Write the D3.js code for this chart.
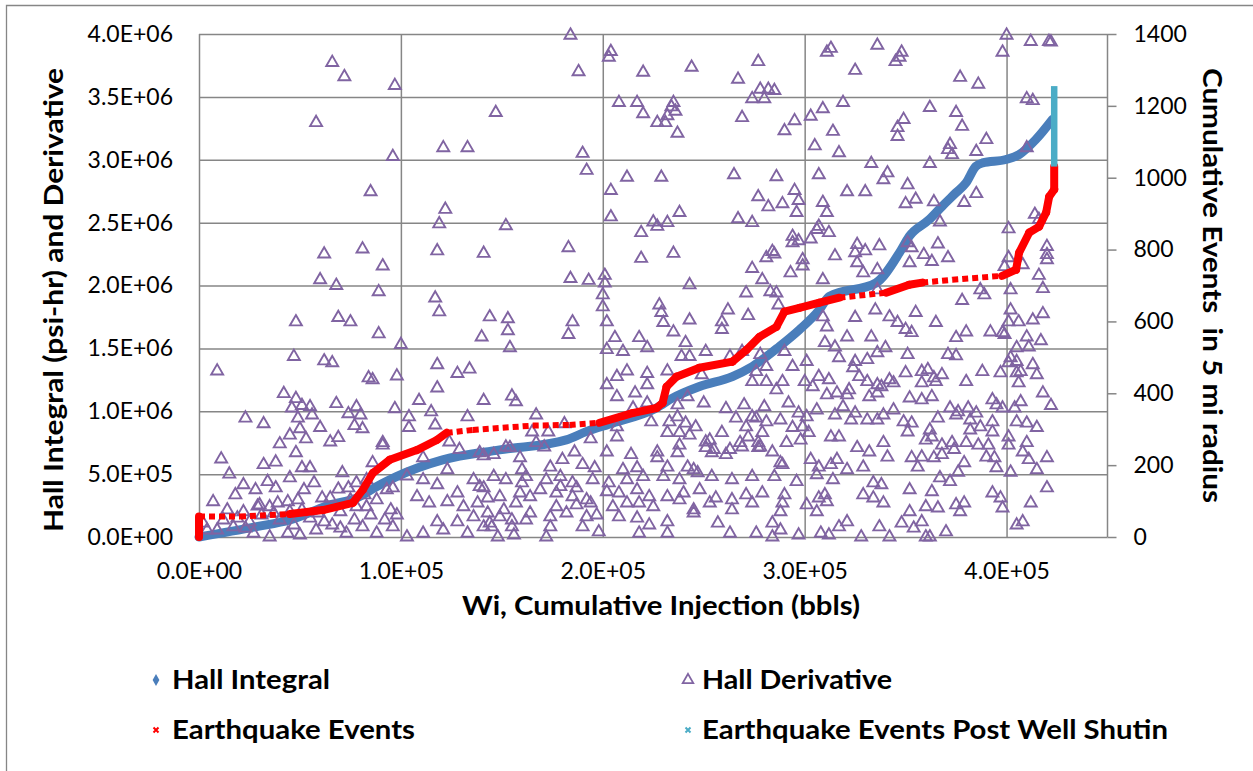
<!DOCTYPE html>
<html>
<head>
<meta charset="utf-8">
<script src="https://cdn.jsdelivr.net/npm/d3@7"></script>
<style>
  body { margin: 0; background: #fff; }
  svg { display: block; font-family: Lato, "Open Sans", sans-serif; }
</style>
</head>
<body>
<svg id="chart"></svg>
<script>
// ---- data (x in thousand bbls, hall values in thousand psi-hr) ----
const xTicks = [0, 100, 200, 300, 400];
const leftTicks = [0, 500, 1000, 1500, 2000, 2500, 3000, 3500, 4000];
const rightTicks = [0, 200, 400, 600, 800, 1000, 1200, 1400];
const seriesNames = ["Hall Integral", "Hall Derivative", "Earthquake Events", "Earthquake Events Post Well Shutin"];

const hallIntegral = [
  [0,0],[28.5,82],[45,135],[64.8,255],[78,310],[87.9,400],[97.8,480],[120.7,613],[148.9,693],
  [181.9,772],[191.8,838],[204.8,905],[226.5,1025],[234.5,1104],[247.9,1197],[264.2,1276],
  [274.1,1356],[287.5,1515],[297.4,1648],[307.3,1807],[312.2,1913],[335.3,2020],[346.9,2259],
  [351.8,2391],[361.7,2524],[368.1,2630],[374.9,2737],[379.9,2816],[384.8,2948],[388.1,2975],
  [399.7,3002],[406.2,3041],[414.5,3161],[422.7,3320]
];

const quakeEvents = [
  [0,0],[0,57],[20.3,57],[45,64],[61.4,75],[76.2,95],[81.1,131],[86.1,178],[94.5,215],[107.9,242],
  [117.8,270],[122.7,290],[135.6,298],[165.3,310],[183.6,312],[198.4,318],[214.7,345],[226.6,359],
  [229.6,373],[231.6,418],[236.5,446],[247.9,471],[264.2,488],[271.2,521],[277.6,557],[286,585],
  [290,627],[297.4,638],[307.3,652],[317.2,666],[340.4,680],[351.8,702],[358.2,708],[373.1,716],
  [397.8,727],[404.7,744],[406.2,791],[411.2,847],[416.1,864],[419.6,903],[421.1,947],[423.6,967],
  [423.6,1031]
];

const quakePostShutin = [[423.6,1031],[423.6,1255]];

const hallDerivative = [
  [66,3773],[72,3660],[97,3590],[58,3295],[96,3025],[85,2745],[62,2250],[81,2290],[91,2155],[60,2045],[68,2000],[89,1950],
  [48,1710],[69,1745],[75,1710],[89,1615],[100,1530],[9,1320],[47,1435],[62,1400],[66,1385],[84,1265],[86,1250],[98,1280],
  [42,1140],[48,1100],[46,1025],[51,1045],[55,1035],[56,970],[68,1060],[78,1035],[74,980],[80,970],[97,1020],[23,945],
  [32,900],[49,945],[50,860],[60,870],[77,885],[81,860],[45,810],[53,780],[65,755],[69,790],[40,740],[91,730],[91,750],
  [11,620],[32,575],[38,595],[48,670],[51,550],[55,550],[15,500],[22,415],[34,440],[45,470],[57,430],[71,510],[78,430],
  [88,295],[7,280],[30,255],[39,270],[44,280],[49,295],[61,310],[65,310],[74,390],[69,380],[14,215],[22,200],[29,245],
  [37,190],[51,215],[59,190],[83,240],
  [38,390],[83,455],[86,590],[35,240],[70,200],[78,240],[93,375],[96,390],[95,215],[2,110],[9,55],[17,80],[27,30],[35,0],
  [44,30],[50,15],[58,55],[66,95],[73,30],[81,80],[88,30],[96,80],[103,0],[111,30],[4,55],[12,135],[19,150],[25,120],
  [31,175],[40,135],[47,95],[55,150],[62,120],[70,70],[77,135],[85,175],[92,135],[98,175],[23,70],[45,200],[75,295],
  [82,335],[52,375],[18,335],[28,375],
  [104,955],[117,890],[133,955],[104,870],[129,695],[141,645],[103,485],[111,455],[123,535],[136,455],[139,400],[118,415],
  [108,320],[114,270],[123,280],[128,350],[131,240],[138,270],[143,310],[118,120],[128,120],[136,160],[121,55],[133,30],[141,80],
  [146,480],[152,455],[162,480],[172,455],[195,455],[149,320],[159,350],[169,375],[177,350],[185,320],[192,295],[143,190],
  [149,160],[155,135],[164,190],[174,160],[182,190],[192,160],[145,80],[156,15],[172,0],[190,80],[198,40],
  [119,1790],[144,1750],[153,1735],[153,1640],[140,1590],[154,1505],[185,1710],[183,1610],[118,1370],[128,1300],[134,1335],
  [118,1185],[109,1085],[141,1085],[155,1120],[157,1075],[115,995],[167,970],[181,900],[165,835],[173,835],[124,755],
  [111,630],[139,670],[154,710],[167,750],[171,715],[186,675],[194,780],
  [184,3990],[204,3860],[203,3815],[188,3700],[220,3695],[244,3735],[277,3780],[267,3640],[278,3560],[282,3560],[285,3550],
  [274,3485],[280,3485],[208,3455],[217,3455],[235,3455],[234,3420],[236,3385],[220,3365],[232,3350],[227,3295],[231,3295],
  [237,3210],[269,3335],[295,3310],[290,3230],[303,3345],[147,3375],[121,3095],[133,3095],[190,3050],[192,2915],[305,3110],
  [212,2860],[229,2860],[265,2880],[286,2865],[204,2755],[277,2705],[282,2625],[289,2650],[295,2755],[297,2675],[296,2580],
  [122,2605],[119,2490],[152,2475],[204,2545],[225,2505],[227,2470],[232,2500],[238,2580],[267,2530],[274,2500],[219,2420],
  [294,2390],[297,2355],[294,2340],[303,2370],[306,2445],[118,2275],[141,2255],[183,2300],[219,2215],[235,2255],[284,2270],
  [285,2250],[281,2220],[299,2205],[299,2155],[274,2135],[293,2100],[279,2045],[184,2055],[193,2040],[201,2080],[201,2020],
  [243,2005],[271,1940],[283,1950],[286,1940],[117,1900],[200,1925],
  [200,1830],[202,1710],[206,1585],[218,1585],[222,1505],[202,1490],[210,1475],[228,1845],[229,1785],[230,1705],[235,1630],
  [243,1725],[259,1710],[259,1650],[262,1805],[272,1760],[287,1845],[241,1545],[251,1475],[239,1435],[243,1435],[263,1435],
  [269,1475],[278,1450],[290,1475],[301,1395],[207,1275],[212,1320],[222,1300],[232,1320],[249,1290],[276,1315],[281,1355],
  [294,1355],[274,1235],[281,1235],[286,1170],[300,1235],[304,1195],[202,1210],[222,1210],[216,1145],[207,1115],[242,1115],
  [250,1065],[261,1020],[270,1050],[280,1035],[292,1065],[297,985],[301,955],[215,1025],[237,955],[241,905],[246,875],
  [207,875],[224,915],[266,945],[274,955],[281,915],[288,930],[294,870],[299,875],[207,795],[232,830],[238,830],[243,810],
  [259,830],[272,795],[279,830],[298,770],[302,830],[251,755],[268,750],[277,750],[291,750],[202,675],[214,655],[227,675],
  [237,670],[255,695],[263,695],[278,715],[288,590],
  [146,655],[152,715],[159,630],[160,535],[174,555],[180,615],[190,575],[196,550],[217,550],[210,535],[227,630],[232,555],
  [242,555],[245,535],[238,730],[251,710],[254,670],[261,655],[269,715],[277,710],[284,675],[285,480],[274,480],[264,455],
  [254,480],[247,510],[238,455],[230,480],[220,480],[212,455],[203,430],[185,430],[179,480],[160,430],[141,390],[164,320],
  [179,400],[187,390],[202,360],[208,350],[217,375],[223,320],[232,320],[240,350],[248,375],[256,310],[264,295],[271,335],
  [279,350],[151,215],[157,270],[177,240],[187,255],[194,270],[205,240],[212,270],[218,270],[225,240],[238,295],[245,215],
  [253,270],[264,215],[274,270],[144,110],[155,80],[162,135],[174,80],[197,175],[208,160],[217,150],[223,95],[232,120],
  [245,190],[257,110],[276,30],[284,110],[148,0],[218,30],[232,30],[263,30],[284,0],[222,1065],[237,1050],[233,915],
  [253,770],[276,945],[271,875],
  [289,1235],[307,1275],[306,1010],[311,1130],[316,1145],[321,1130],[315,970],[319,1035],[325,985],[323,930],[331,930],
  [327,1275],[331,1235],[336,1210],[332,1115],[344,1225],[350,1305],[358,1225],[365,1235],[368,1290],[352,1105],[358,1090],
  [363,1115],[344,1010],[339,970],[336,930],[349,915],[353,905],[351,835],[366,945],[372,1025],[376,995],[381,1025],
  [385,985],[382,930],[382,850],[387,875],[393,1090],[395,1050],[398,1025],[404,1025],[407,1075],[418,1145],[422,1045],
  [380,1235],[388,1315],[397,1305],[405,1305],[406,1225],[415,1290],[405,915],[410,905],[415,870],[393,915],[393,835],
  [313,795],[317,795],[339,750],[362,850],[363,795],[360,770],[368,730],[373,750],[374,695],[380,750],[386,730],[391,730],
  [401,795],[410,750],[326,710],[332,675],[341,635],[353,630],[358,635],[364,630],[368,655],[379,590],[390,635],[394,630],
  [408,675],[411,615],[420,630],[415,535],[402,515],[395,550],[376,515],[367,470],[372,440],[356,555],[329,555],[321,535],
  [313,575],[316,615],[307,555],[303,615],[306,495],[289,575],[296,440],[314,455],[334,430],[338,415],[352,375],[363,360],
  [393,350],[397,310],[420,390],[329,335],[334,310],[339,270],[310,335],[307,310],[301,255],[306,200],[311,280],[290,335],
  [289,270],[288,200],[288,55],[297,15],[308,30],[312,15],[317,80],[321,120],[328,0],[337,80],[342,0],[348,110],[352,200],
  [358,120],[360,240],[366,230],[354,70],[360,0],[362,0],[370,40],[375,255],[379,270],[377,200],[398,230],[405,95],
  [408,120],[412,270],
  [402,1965],[418,1975],[402,1805],[401,1710],[406,1710],[413,1725],[418,1775],[399,1610],[410,1590],[417,1560],[405,1505],
  [411,1510],[402,1425],[401,1385],[405,1395],[413,1370],[407,1315],[401,730],[378,1880],[387,1965],[389,1925],[355,1785],
  [342,1750],[346,1705],[325,1745],[335,1805],[336,1965],[309,1750],[311,1670],[333,1590],[321,1590],[315,1510],[310,1545],
  [365,1705],[350,1650],[353,1625],[375,1585],[380,1630],[392,1630],[398,1625],[371,1450],[375,1440],[340,1505],[336,1465],
  [351,1450],[317,1425],[325,1395],[331,1410],[324,1345],[358,1315],[361,1330],[364,1265],[342,1250],[338,1195],[312,1250],
  [322,1170],[336,1145],[375,970],
  [313,3885],[311,3855],[336,3910],[348,3855],[347,3815],[345,3780],[325,3710],[377,3655],[386,3600],[400,3990],[398,3855],
  [412,3940],[421,3940],[422,3935],[410,3485],[413,3470],[319,3455],[309,3405],[362,3415],[375,3375],[349,3320],[346,3255],
  [378,3265],[314,3225],[346,3185],[390,3160],[372,3120],[371,3080],[373,3040],[385,3065],[410,3095],[317,3055],[333,2970],
  [362,2970],[341,2895],[339,2840],[307,2880],[321,2745],[330,2745],[351,2800],[355,2685],[350,2650],[364,2665],[379,2660],
  [385,2730],[309,2660],[311,2580],[307,2470],[312,2420],[367,2505],[401,2450],[414,2565],[416,2525],[326,2325],[325,2260],
  [330,2275],[337,2315],[315,2235],[351,2340],[353,2300],[352,2180],[359,2245],[363,2190],[366,2330],[371,2220],[326,2180],
  [336,2125],[329,2100],[309,2045],[401,2220],[399,2150],[408,2165],[420,2310],[420,2245],[420,2205],[416,2080]
];

// ---- layout ----
const W = 1253, H = 771;
const plotL = 199, plotR = 1107.5, plotT = 34, plotB = 537;
const gridColor = "#868686";
const blue = "#4A7EBB", purple = "#8064A2", red = "#FF0000", cyan = "#4BACC6";

const svg = d3.select("#chart").attr("width", W).attr("height", H);
svg.append("rect").attr("width", W).attr("height", H).attr("fill", "#fff");

// outer chart border (only top and left edges visible)
svg.append("path")
  .attr("d", `M6.5,${H}V5.5H${W}`)
  .attr("fill", "none").attr("stroke", gridColor).attr("stroke-width", 1.3);

const x = d3.scaleLinear().domain([0, 450]).range([plotL, plotR]);
const yL = d3.scaleLinear().domain([0, 4000]).range([plotB, plotT]);
const yR = d3.scaleLinear().domain([0, 1400]).range([plotB, plotT]);

const sci = v => {
  let s = (v * 1000).toExponential(1).toUpperCase();
  return s.replace(/E([+-])(\d)$/, "E$10$2");
};

// gridlines
svg.append("g").attr("transform", `translate(${plotL},0)`)
  .call(d3.axisLeft(yL).tickValues(leftTicks).tickSize(-(plotR - plotL)).tickFormat(""))
  .call(g => g.select(".domain").remove())
  .call(g => g.selectAll("line").attr("stroke", gridColor).attr("stroke-width", 1.5));

svg.append("g").attr("transform", `translate(0,${plotB})`)
  .call(d3.axisBottom(x).tickValues(xTicks).tickSize(-(plotB - plotT)).tickFormat(""))
  .call(g => g.select(".domain").remove())
  .call(g => g.selectAll("line").attr("stroke", gridColor).attr("stroke-width", 1.5));

// right axis line + ticks
svg.append("line").attr("x1", plotR).attr("x2", plotR).attr("y1", plotT).attr("y2", plotB)
  .attr("stroke", gridColor).attr("stroke-width", 1.5);

const styleText = g => g.selectAll("text")
  .attr("font-family", "Lato, 'Open Sans', sans-serif").attr("font-size", 23).attr("fill", "#000");

svg.append("g").attr("transform", `translate(${plotL},0)`)
  .call(d3.axisLeft(yL).tickValues(leftTicks).tickSize(0).tickPadding(26).tickFormat(sci))
  .call(g => g.select(".domain").remove())
  .call(styleText);

svg.append("g").attr("transform", `translate(0,${plotB})`)
  .call(d3.axisBottom(x).tickValues(xTicks).tickSize(0).tickPadding(26).tickFormat(sci))
  .call(g => g.select(".domain").remove())
  .call(styleText);

svg.append("g").attr("transform", `translate(${plotR},0)`)
  .call(d3.axisRight(yR).tickValues(rightTicks).tickSize(9).tickPadding(17).tickFormat(d3.format("d")))
  .call(g => g.select(".domain").remove())
  .call(g => g.selectAll("line").attr("stroke", gridColor).attr("stroke-width", 1.5))
  .call(styleText);

// axis titles
const title = (txt, len) => svg.append("text")
  .attr("font-family", "Lato, 'Open Sans', sans-serif").attr("font-weight", "bold")
  .attr("font-size", 27).attr("fill", "#000")
  .attr("textLength", len).attr("lengthAdjust", "spacingAndGlyphs")
  .style("white-space", "pre").text(txt);

title("Hall Integral (psi-hr) and Derivative", 464)
  .attr("text-anchor", "middle").attr("transform", "translate(63,300) rotate(-90)");
title("Cumulative Events  in 5 mi radius", 435)
  .attr("text-anchor", "middle").attr("transform", "translate(1203,285.5) rotate(90)");
title("Wi, Cumulative Injection (bbls)", 398).attr("x", 462).attr("y", 615);

// Hall Integral (dense diamonds read as a band)
svg.append("path").datum(hallIntegral)
  .attr("d", d3.line().x(d => x(d[0])).y(d => yL(d[1])).curve(d3.curveMonotoneX))
  .attr("fill", "none").attr("stroke", blue).attr("stroke-width", 9)
  .attr("stroke-linejoin", "round").attr("stroke-linecap", "round");

// Hall Derivative triangles
const tri = d3.symbol().type(d3.symbolTriangle).size(62);
svg.append("g").selectAll("path").data(hallDerivative).join("path")
  .attr("d", tri)
  .attr("transform", d => `translate(${x(d[0])},${yL(d[1])})`)
  .attr("fill", "none").attr("stroke", purple).attr("stroke-width", 1.9);

// Earthquake events: dense stretches solid, sparse stretches broken
const segs = d3.pairs(quakeEvents).map(([a, b]) => {
  const dx = b[0] - a[0];
  const rate = dx === 0 ? Infinity : (b[1] - a[1]) / dx;
  return { a, b, sparse: rate < 0.65 };
});
svg.append("g").selectAll("line").data(segs).join("line")
  .attr("x1", d => x(d.a[0])).attr("y1", d => yR(d.a[1]))
  .attr("x2", d => x(d.b[0])).attr("y2", d => yR(d.b[1]))
  .attr("stroke", red)
  .attr("stroke-width", d => d.sparse ? 6 : 8)
  .attr("stroke-dasharray", d => d.sparse ? "6,4" : null)
  .attr("stroke-linecap", d => d.sparse ? "butt" : "round");

svg.append("path").datum(quakePostShutin)
  .attr("d", d3.line().x(d => x(d[0])).y(d => yR(d[1])))
  .attr("fill", "none").attr("stroke", cyan).attr("stroke-width", 6.5);

// legend
const legend = [
  { name: seriesNames[0], mx: 156, tx: 172, y: 680, len: 158, kind: "diamond", color: blue },
  { name: seriesNames[1], mx: 688, tx: 702, y: 680, len: 190, kind: "triangle", color: purple },
  { name: seriesNames[2], mx: 156, tx: 172, y: 730, len: 243, kind: "x", color: red },
  { name: seriesNames[3], mx: 688, tx: 702, y: 730, len: 466, kind: "x", color: cyan }
];
const lg = svg.append("g").selectAll("g").data(legend).join("g");
lg.append("path")
  .attr("transform", d => `translate(${d.mx},${d.y})`)
  .attr("d", d => d.kind === "diamond" ? d3.symbol().type(d3.symbolDiamond).size(40)()
    : d.kind === "triangle" ? d3.symbol().type(d3.symbolTriangle).size(48)()
    : "M-2.5,-2.5L2.5,2.5M-2.5,2.5L2.5,-2.5")
  .attr("fill", d => d.kind === "diamond" ? d.color : "none")
  .attr("stroke", d => d.color)
  .attr("stroke-width", d => d.kind === "x" ? 2 : d.kind === "triangle" ? 1.8 : 0);
lg.append("text")
  .attr("x", d => d.tx).attr("y", d => d.y + 8.5)
  .attr("font-family", "Lato, 'Open Sans', sans-serif").attr("font-weight", "bold")
  .attr("font-size", 27).attr("fill", "#000")
  .attr("textLength", d => d.len).attr("lengthAdjust", "spacingAndGlyphs")
  .text(d => d.name);
</script>
</body>
</html>
